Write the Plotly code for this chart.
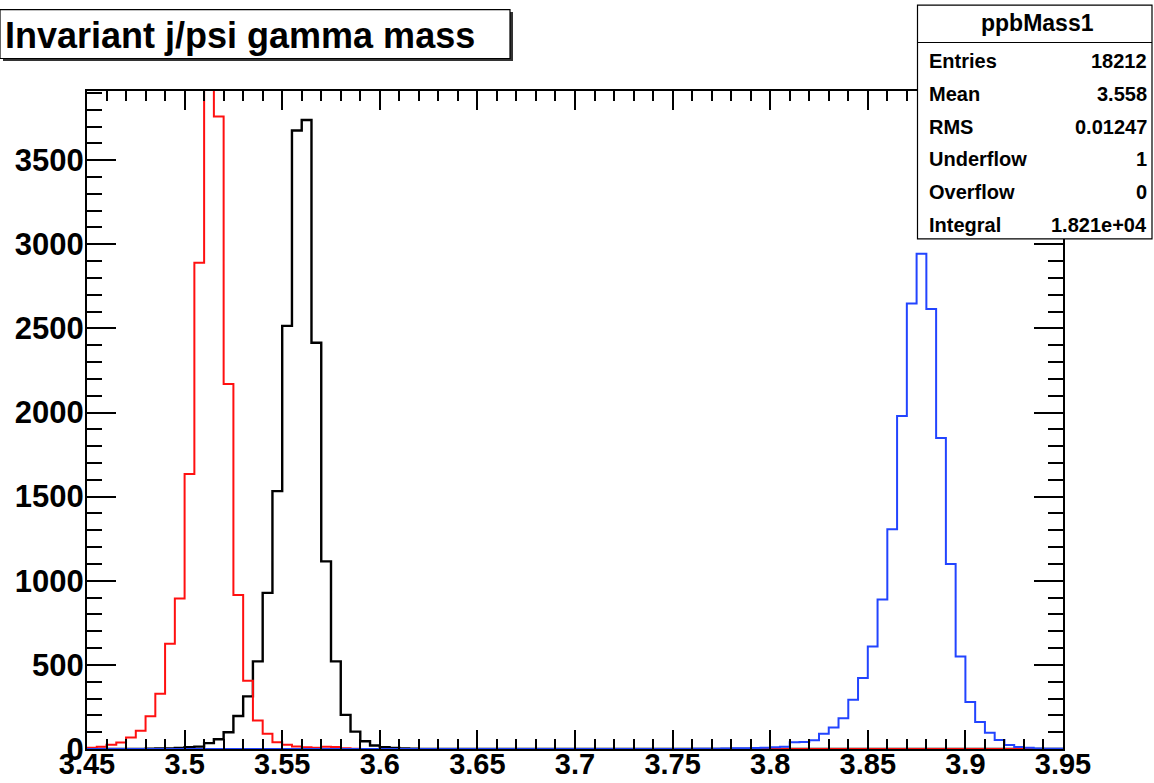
import numpy as np
import plotly.graph_objects as go

# Histogram binning (GeV)
x_min, x_max, bin_width = 3.45, 3.95, 0.005

# Bin contents, listed from the first filled bin onward
black_start = 3.480
black_counts = [2, 3, 4, 6, 10, 14, 35, 58, 100, 196, 313, 521, 928, 1533, 2515,
                3676, 3739, 2415, 1115, 521, 203, 103, 46, 21, 10, 6, 3, 2, 1]

red_start = 3.450
red_counts = [8, 14, 25, 38, 68, 108, 194, 328, 625, 895, 1635, 2890, 4600, 3760,
              2170, 916, 405, 170, 90, 40, 25, 15, 10, 8, 14, 12, 4, 2]

blue_start = 3.760
blue_counts = [1, 2, 2, 3, 4, 5, 6, 7, 10, 14, 40, 42, 52, 90, 128, 183, 292, 422,
               609, 888, 1306, 1979, 2648, 2944, 2615, 1849, 1099, 550, 280, 160,
               97, 53, 24, 12, 8, 3, 2, 1]

x_tick_vals = [3.45, 3.5, 3.55, 3.6, 3.65, 3.7, 3.75, 3.8, 3.85, 3.9, 3.95]
x_tick_text = ["3.45", "3.5", "3.55", "3.6", "3.65", "3.7", "3.75", "3.8", "3.85", "3.9", "3.95"]
y_tick_vals = [0, 500, 1000, 1500, 2000, 2500, 3000, 3500]
y_tick_text = ["0", "500", "1000", "1500", "2000", "2500", "3000", "3500"]

title_text = "Invariant j/psi gamma mass"
stats_name = "ppbMass1"
stats_labels = ["Entries", "Mean", "RMS", "Underflow", "Overflow", "Integral"]
stats_values = ["18212", "3.558", "0.01247", "1", "0", "1.821e+04"]

n_bins = int(round((x_max - x_min) / bin_width))
edges = x_min + bin_width * np.arange(n_bins + 1)


def full_hist(start, counts):
    h = np.zeros(n_bins)
    i0 = int(round((start - x_min) / bin_width))
    h[i0:i0 + len(counts)] = counts
    return h


def step_xy(h):
    return edges, np.append(h, h[-1])


# Figure geometry in pixels
W, H = 1154, 783
L, R, T, B = 87, 1063, 91, 749.3


def px(xp):
    return (xp - L) / (R - L)


def py(yp):
    return (B - yp) / (B - T)


fig = go.Figure()
for counts, start, color, width in [
    (black_counts, black_start, "#000000", 2.4),
    (red_counts, red_start, "#ff1010", 2.0),
    (blue_counts, blue_start, "#2244ff", 2.0),
]:
    xs, ys = step_xy(full_hist(start, counts))
    fig.add_trace(go.Scatter(x=xs, y=ys, mode="lines", line_shape="hv",
                             line=dict(color=color, width=width),
                             hoverinfo="skip", showlegend=False))

sans = "Liberation Sans, Arial, sans-serif"

fig.update_xaxes(range=[x_min, x_max], tickvals=x_tick_vals, ticktext=x_tick_text,
                 ticks="inside", ticklen=19, tickwidth=1.5, tickcolor="black",
                 minor=dict(dtick=0.01, tick0=x_min, ticks="inside", ticklen=10,
                            tickwidth=1.5, tickcolor="black"),
                 showline=True, linecolor="black", linewidth=2, mirror="ticks",
                 showgrid=False, zeroline=False,
                 tickfont=dict(family=sans, size=29, color="black", weight="bold"),
                 ticklabelstandoff=-12, automargin=False)
fig.update_yaxes(range=[0, 3911], tickvals=y_tick_vals, ticktext=y_tick_text,
                 ticks="inside", ticklen=29, tickwidth=1.5, tickcolor="black",
                 minor=dict(dtick=100, tick0=0, ticks="inside", ticklen=15,
                            tickwidth=1.5, tickcolor="black"),
                 showline=True, linecolor="black", linewidth=2, mirror="ticks",
                 showgrid=False, zeroline=False,
                 tickfont=dict(family=sans, size=31, color="black", weight="bold"),
                 ticklabelstandoff=-5, automargin=False)

shapes = []
annotations = []

# Title pave with shadow
shapes.append(dict(type="rect", xref="paper", yref="paper", x0=px(3), x1=px(513),
                   y0=py(61), y1=py(12), fillcolor="#333333", line=dict(width=0), layer="above"))
shapes.append(dict(type="rect", xref="paper", yref="paper", x0=px(0), x1=px(510),
                   y0=py(58.5), y1=py(9.5), fillcolor="white",
                   line=dict(color="black", width=1.2), layer="above"))
annotations.append(dict(xref="paper", yref="paper", x=px(3), y=py(35), xanchor="left",
                        yanchor="middle", text=title_text, showarrow=False,
                        font=dict(family=sans, size=36, color="black", weight="bold")))

# Statistics box
shapes.append(dict(type="rect", xref="paper", yref="paper", x0=px(917.5), x1=px(1152),
                   y0=py(239), y1=py(5), fillcolor="white",
                   line=dict(color="black", width=1.2), layer="above"))
shapes.append(dict(type="line", xref="paper", yref="paper", x0=px(917.5), x1=px(1152),
                   y0=py(42.5), y1=py(42.5), line=dict(color="black", width=1.2), layer="above"))
annotations.append(dict(xref="paper", yref="paper", x=px(1037), y=py(23), xanchor="center",
                        yanchor="middle", text=stats_name, showarrow=False,
                        font=dict(family=sans, size=23, color="black", weight="bold")))
row_font = dict(family=sans, size=20, color="black", weight="bold")
for i, (lab, val) in enumerate(zip(stats_labels, stats_values)):
    yrow = 61 + i * 32.8
    annotations.append(dict(xref="paper", yref="paper", x=px(927), y=py(yrow), xanchor="left",
                            yanchor="middle", text=lab, showarrow=False, font=row_font))
    annotations.append(dict(xref="paper", yref="paper", x=px(1149), y=py(yrow), xanchor="right",
                            yanchor="middle", text=val, showarrow=False, font=row_font))

fig.update_layout(width=W, height=H, margin=dict(l=L, r=W - R, t=T, b=H - B, pad=0),
                  paper_bgcolor="white", plot_bgcolor="white",
                  shapes=shapes, annotations=annotations)

fig.write_html("out.html")
